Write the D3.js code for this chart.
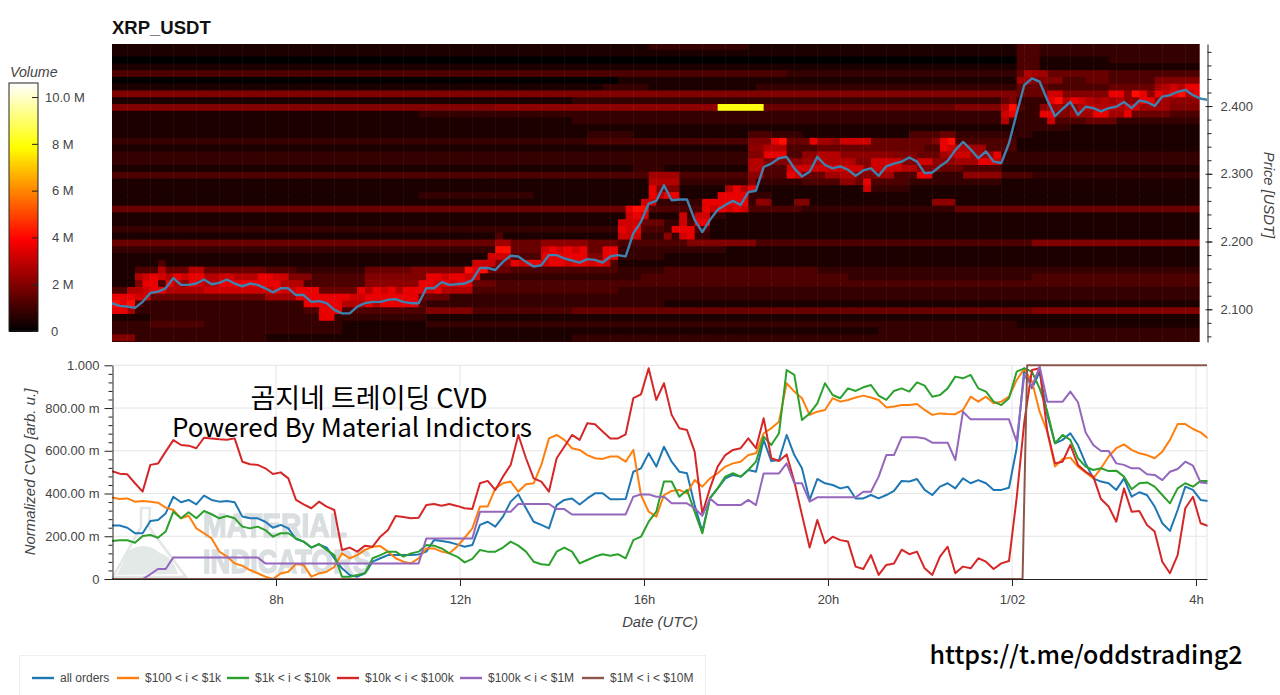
<!DOCTYPE html>
<html><head><meta charset="utf-8">
<script src="https://cdnjs.cloudflare.com/ajax/libs/d3/7.8.5/d3.min.js"></script>
<style>html,body{margin:0;padding:0;background:#fff;overflow:hidden}svg{display:block}text{font-family:"Liberation Sans",Arial,sans-serif}</style>
</head><body><svg id="c" width="1280" height="695"></svg>
<script>
// ---- data ----
const title = "XRP_USDT";
const seriesNames = ["all orders","$100 < i < $1k","$1k < i < $10k","$10k < i < $100k","$100k < i < $1M","$1M < i < $10M"];
const seriesColors = ["#1f77b4","#ff7f0e","#2ca02c","#d62728","#9467bd","#8c564b"];
const startHour = 4.435, endHour = 28.24;
const timeTicks = [8,12,16,20,24,28];
const timeLabels = ["8h","12h","16h","20h","1/02","4h"];
const cvdTicks = [0,200,400,600,800,1000];
const cvdLabels = ["0","200.00 m","400.00 m","600.00 m","800.00 m","1.000"];
const priceTicks = [2.1,2.2,2.3,2.4];
const volumeTicks = [0,2,4,6,8,10];
const volumeLabels = ["0","2 M","4 M","6 M","8 M","10.0 M"];

// values per 10-minute step (milli-units for CVD, 1/1000 USDT for price)
const price = [2109,2105,2104,2102,2111,2124,2126,2131,2146,2136,2136,2138,2144,2137,2139,2144,2138,2134,2138,2136,2131,2125,2131,2131,2121,2121,2111,2112,2109,2099,2094,2094,2104,2109,2111,2111,2114,2115,2111,2109,2109,2131,2131,2140,2136,2137,2138,2143,2161,2161,2158,2170,2179,2178,2170,2163,2165,2180,2180,2175,2172,2169,2174,2173,2169,2178,2180,2178,2212,2229,2256,2260,2283,2261,2262,2262,2232,2214,2232,2247,2254,2260,2254,2273,2275,2310,2315,2323,2325,2308,2296,2303,2325,2313,2308,2311,2306,2297,2305,2308,2297,2311,2315,2318,2324,2318,2301,2302,2311,2319,2335,2347,2336,2323,2333,2318,2316,2345,2389,2431,2441,2436,2409,2385,2396,2406,2387,2399,2397,2392,2397,2399,2406,2397,2408,2406,2400,2414,2416,2421,2424,2416,2411,2409];
const cvdAll = [250,250,240,214,214,271,276,307,385,359,370,349,390,370,362,365,359,292,284,284,268,240,253,237,187,175,147,162,147,97,50,19,11,27,81,97,112,112,112,112,115,128,182,178,172,162,151,159,253,268,245,292,362,396,331,268,253,237,346,370,377,349,377,401,401,373,373,374,502,518,588,526,619,549,502,495,346,222,378,424,471,487,479,510,502,651,552,557,674,580,518,370,468,448,440,424,432,377,377,393,377,393,412,459,456,468,417,393,432,448,424,471,448,463,448,417,417,427,612,986,892,970,768,635,651,682,627,541,471,456,448,417,471,385,406,393,339,261,225,323,432,417,370,365];
const cvd100 = [381,374,377,362,365,362,357,334,323,284,296,237,214,190,128,105,73,62,42,27,11,0,26,34,70,65,11,26,34,57,120,97,112,136,151,154,128,97,81,73,97,143,143,128,120,151,193,237,339,339,424,448,456,409,443,448,534,658,674,651,612,604,580,565,562,573,573,549,604,393,315,292,393,412,417,401,463,432,471,495,526,541,549,580,588,682,705,736,916,877,846,768,783,791,846,830,838,849,858,849,838,803,807,814,814,819,791,768,775,772,771,791,853,830,853,822,830,853,931,983,924,783,690,526,562,568,526,499,471,518,573,612,630,604,588,580,565,596,651,725,725,702,686,658];
const cvd1k = [178,181,181,170,201,206,193,222,315,284,312,284,318,303,284,295,284,245,237,245,229,198,214,214,190,175,147,164,136,112,11,11,19,27,97,112,128,128,105,120,128,159,156,143,120,105,78,94,136,128,128,147,175,156,128,81,69,66,128,147,128,73,89,105,116,109,116,97,182,198,268,315,456,456,385,417,315,214,378,424,479,495,479,510,549,666,627,682,978,955,744,775,822,916,861,846,892,880,897,908,858,838,880,892,877,920,905,853,861,892,947,939,955,892,877,830,814,846,970,986,970,892,783,635,674,651,565,526,510,518,505,507,479,420,448,452,432,393,354,424,448,432,459,459];
const cvd10k = [505,493,490,448,409,534,540,596,650,627,624,612,661,658,654,652,658,549,537,534,518,491,499,471,370,349,331,362,339,323,136,147,128,156,151,198,229,295,290,284,287,346,351,343,351,342,331,328,448,459,417,479,534,674,565,471,456,409,565,619,674,651,729,724,690,658,658,677,846,864,986,838,916,768,705,697,596,307,424,526,580,604,612,658,612,752,565,552,583,456,300,147,276,167,198,182,175,58,47,112,19,66,73,137,116,128,50,19,105,151,27,58,50,97,81,47,73,84,378,736,978,986,690,541,549,627,534,502,479,374,339,268,424,315,318,253,222,81,27,112,331,385,261,248];
const cvd100k = [0,0,0,0,0,22,47,47,101,101,101,101,101,101,101,101,101,101,101,101,73,73,73,73,73,73,73,73,73,73,73,73,73,73,73,73,73,73,73,73,73,190,190,190,190,190,190,190,315,315,315,315,315,351,351,351,351,351,327,327,302,302,302,302,302,302,302,302,385,396,396,385,385,354,354,354,331,296,377,346,346,346,346,370,346,494,494,494,541,448,448,362,382,382,382,382,382,382,408,408,479,580,580,663,663,663,658,638,638,638,557,783,747,747,747,747,747,747,643,955,900,994,830,830,830,877,827,686,627,599,599,541,534,518,518,490,487,463,502,515,549,530,452,448];
const cvd1MHours = [4.435,24.23,24.33,28.24];
const cvd1M = [0,0,1000,1000];

// volume heat-map: one entry per 0.01 USDT price row, [first 10-min column, levels]; last level runs on until next segment
const heatLevelKeys = "0123456789abk";
const heatLevelMillions = [0,0.4,0.8,1.2,1.6,2,2.2,2.5,2.8,3.2,3.6,4.2,8];
const heatPrices = [2.49,2.48,2.47,2.46,2.45,2.44,2.43,2.42,2.41,2.40,2.39,2.38,2.37,2.36,2.35,2.34,2.33,2.32,2.31,2.30,2.29,2.28,2.27,2.26,2.25,2.24,2.23,2.22,2.21,2.20,2.19,2.18,2.17,2.16,2.15,2.14,2.13,2.12,2.11,2.10,2.09,2.08,2.07,2.06,2.05];
const heatRows = [
[[0,"1"],[70,"2"],[83,"1"],[118,"3"],[121,"2"]],
[[0,"1"],[118,"3"],[121,"2"]],
[[0,"0"],[118,"3"],[121,"1"],[130,"2"]],
[[0,"1"],[118,"3"],[121,"1"]],
[[0,"3"],[88,"2"],[118,"48"],[120,"7"],[122,"4"],[130,"3"]],
[[0,"0"],[66,"1"],[118,"77"],[120,"5"],[124,"3"],[127,"4"],[130,"3"],[136,"5"]],
[[0,"1"],[64,"2"],[70,"1"],[84,"2"],[118,"4"],[122,"3"],[130,"4"],[136,"7898"],[140,"aab"]],
[[0,"5"],[118,"4"],[122,"99"],[124,"5"],[130,"aa"],[132,"6"],[133,"ba"],[135,"6"],[136,"a9ab8aa"]],
[[0,"1"],[60,"2"],[116,"45"],[118,"2"],[122,"ab8"],[125,"a98787"],[131,"8"],[132,"6"],[134,"aa"],[136,"7"],[138,"6"]],
[[0,"5"],[50,"6"],[79,"k"],[85,"4"],[110,"5"],[116,"8b3"],[119,"2"],[121,"6"],[122,"7"],[124,"56"],[126,"8"],[132,"9"],[134,"7"],[138,"5"]],
[[0,"1"],[40,"2"],[116,"9a"],[118,"2"],[121,"a"],[123,"5"],[125,"7"],[128,"a"],[130,"7"],[132,"a"],[133,"4"],[138,"3"]],
[[0,"1"],[60,"2"],[116,"8"],[117,"2"],[122,"9"],[123,"3"],[127,"4"],[131,"2"]],
[[0,"1"],[118,"2"],[125,"1"]],
[[0,"1"],[62,"2"],[68,"1"],[83,"3"],[86,"2"],[90,"1"],[104,"3"],[108,"4"],[110,"2"],[120,"1"]],
[[0,"2"],[62,"3"],[83,"5"],[86,"ab"],[88,"4"],[91,"a"],[92,"77"],[94,"6"],[95,"9"],[99,"4"],[107,"5a"],[109,"b"],[110,"3"],[118,"1"]],
[[0,"1"],[83,"6"],[85,"8"],[88,"3"],[92,"4"],[106,"3"],[108,"a9"],[110,"8"],[112,"7"],[114,"3"],[118,"1"]],
[[0,"2"],[83,"5"],[85,"aaa"],[88,"3"],[90,"6"],[92,"8"],[95,"6"],[102,"5"],[105,"4"],[108,"7899"],[112,"7"],[115,"a"],[116,"2"]],
[[0,"2"],[83,"88"],[85,"5"],[88,"6"],[90,"7"],[92,"8"],[95,"88"],[97,"5"],[99,"9"],[103,"5"],[105,"99"],[107,"6"],[110,"7"],[113,"aa"],[115,"9"],[116,"2"]],
[[0,"1"],[68,"2"],[72,"1"],[83,"88"],[85,"3"],[88,"999"],[91,"9"],[96,"9"],[98,"6"],[99,"9"],[103,"8"],[105,"5"],[108,"4"],[111,"3"],[116,"1"]],
[[0,"3"],[70,"7"],[74,"3"],[83,"66"],[85,"3"],[88,"a9"],[90,"4"],[93,"77"],[95,"88"],[97,"5"],[100,"7"],[102,"3"],[105,"aa"],[107,"2"],[111,"6"],[116,"3"],[120,"2"]],
[[0,"1"],[70,"8"],[74,"2"],[83,"5"],[84,"2"],[90,"3"],[95,"66"],[97,"4"],[98,"a"],[99,"3"],[104,"2"],[116,"1"]],
[[0,"1"],[70,"a"],[71,"5"],[74,"1"],[80,"8a8a"],[84,"1"],[98,"9"],[99,"2"],[104,"1"]],
[[0,"1"],[40,"2"],[55,"1"],[70,"a8aa"],[74,"1"],[79,"aaaa"],[83,"2"],[86,"1"]],
[[0,"1"],[69,"99"],[71,"2"],[77,"a"],[83,"2"],[84,"66"],[86,"1"],[89,"55"],[91,"1"],[107,"666"],[110,"1"]],
[[0,"4"],[67,"a"],[68,"bb"],[70,"3"],[77,"a9a9a9"],[83,"3"],[90,"2"],[110,"4"]],
[[0,"1"],[67,"9a9"],[70,"1"],[74,"9"],[75,"2"],[76,"99"],[78,"2"],[80,"1"]],
[[0,"1"],[66,"999"],[69,"4"],[72,"2"],[74,"9"],[75,"3"],[76,"aa"],[78,"1"]],
[[0,"2"],[66,"a9a"],[69,"3"],[72,"2"],[73,"aaa"],[76,"3"],[78,"1"]],
[[0,"1"],[50,"3"],[51,"1"],[66,"999"],[69,"2"],[72,"6"],[73,"2"],[74,"9a"],[76,"2"],[78,"1"]],
[[0,"4"],[50,"77"],[52,"4"],[56,"6"],[62,"4"],[66,"3"],[75,"5"],[84,"3"],[120,"5"]],
[[0,"2"],[50,"bb"],[52,"4"],[56,"9a9a9a"],[62,"4"],[64,"aa"],[66,"2"],[80,"1"]],
[[0,"1"],[49,"999"],[52,"3"],[56,"aaaaaa"],[62,"5"],[64,"aa"],[66,"2"],[72,"1"]],
[[0,"1"],[6,"3"],[7,"1"],[47,"999"],[50,"5"],[52,"a9aa9aa9aa9a"],[64,"9"],[65,"3"],[66,"1"]],
[[0,"1"],[3,"3"],[6,"8"],[7,"4"],[10,"88"],[12,"4"],[20,"3"],[24,"2"],[33,"4"],[39,"5"],[46,"bab"],[49,"4"],[52,"3"],[66,"2"],[72,"3"],[92,"2"]],
[[0,"1"],[3,"8"],[4,"9a98a9"],[10,"aa"],[12,"8"],[14,"9"],[16,"8"],[19,"aa"],[21,"9"],[23,"5"],[26,"3"],[33,"5"],[41,"aa9aa"],[46,"9"],[48,"2"],[69,"3"],[96,"2"],[120,"3"]],
[[0,"1"],[3,"5"],[4,"aa"],[6,"3"],[7,"a8"],[9,"6"],[10,"a9"],[12,"8"],[14,"a"],[22,"8"],[25,"3"],[33,"6"],[40,"aa9a9aa"],[47,"4"],[50,"3"]],
[[0,"3"],[2,"88"],[4,"9a"],[6,"a"],[7,"8"],[12,"9"],[20,"9a"],[22,"9"],[24,"aaa"],[27,"4"],[32,"a8a9a8"],[38,"a"],[40,"a9a"],[43,"8"],[47,"3"],[66,"2"]],
[[0,"aaa"],[3,"9"],[5,"4"],[20,"7"],[24,"aaaaaaa"],[31,"9"],[33,"a"],[40,"4"],[44,"2"]],
[[0,"bab"],[3,"3"],[4,"2"],[25,"a"],[30,"8"],[33,"a8"],[35,"a"],[40,"3"],[41,"2"],[72,"1"]],
[[0,"aa"],[2,"7"],[3,"2"],[25,"3"],[27,"aaa"],[30,"3"],[41,"5"],[47,"3"],[60,"4"],[120,"5"]],
[[0,"1"],[5,"2"],[27,"aa"],[29,"2"],[41,"1"]],
[[0,"2"],[5,"3"],[12,"2"],[30,"1"],[41,"2"],[118,"1"]],
[[0,"2"],[30,"1"],[100,"2"]],
[[0,"5"],[3,"2"],[20,"1"],[60,"2"]],
[[0,"2"]]
];
const heatCols = 142;

// ---- drawing ----
const svg = d3.select("#c");
const x = d3.scaleLinear([startHour,endHour],[112,1207]);
const yP = d3.scaleLinear([2.0517,2.4916],[342,44]);
const yC = d3.scaleLinear([0,1000],[579,365.3]);
const hot = d3.scaleLinear([0,3.94,7.88,10.6],["#000","#f00","#ff0","#fff"]).clamp(true);
const stepH = 1/6;
const hoursOf = i => startHour + i*stepH;
const gray="#444";

svg.append("defs").html(`<clipPath id="hp"><rect x="112" y="44" width="1087.7" height="298"/></clipPath>
<clipPath id="pl"><rect x="112" y="44" width="1095" height="298"/></clipPath>
<clipPath id="cl"><rect x="112" y="360" width="1095.5" height="225"/></clipPath>
<filter id="soft"><feGaussianBlur stdDeviation="0.6"/></filter>`);

// heat map
const cells=[];
heatRows.forEach((segs,r)=>{
  segs.forEach((s,k)=>{
    const end = k+1<segs.length ? segs[k+1][0] : heatCols;
    for(let c=s[0];c<end;c++){
      const ch = s[1][Math.min(c-s[0],s[1].length-1)];
      cells.push({c,p:heatPrices[r],v:heatLevelMillions[heatLevelKeys.indexOf(ch)]});
    }
  });
});
svg.append("g").attr("clip-path","url(#hp)").append("g").attr("filter","url(#soft)")
  .selectAll("rect").data(cells).join("rect")
  .attr("x",d=>x(hoursOf(d.c))).attr("width",x(hoursOf(1))-x(hoursOf(0))+0.5)
  .attr("y",d=>yP(d.p+0.003)).attr("height",d=>yP(d.p-0.0075)-yP(d.p+0.003)+0.5)
  .attr("fill",d=>hot(d.v));

// price line
svg.append("path").attr("clip-path","url(#pl)").datum(price)
  .attr("d",d3.line().x((d,i)=>x(hoursOf(i))).y(d=>yP(d/1000)))
  .attr("fill","none").attr("stroke","#3f82b0").attr("stroke-width",2.4).attr("stroke-linejoin","round");

// price axis
const axP = svg.append("g").attr("transform","translate(1207.5,0)");
axP.call(d3.axisRight(yP).tickValues(priceTicks).tickFormat(d3.format(".3f")).tickSize(5).tickSizeOuter(0));
axP.select(".domain").attr("stroke","#222");
axP.selectAll(".tick line").attr("stroke","#222").attr("x1",-2);
axP.selectAll("text").attr("font-size",13).attr("fill",gray).attr("x",13).attr("font-family","Liberation Sans");
const axP2 = svg.append("g").attr("transform","translate(1207.5,0)");
axP2.call(d3.axisRight(yP).tickValues(d3.range(2.06,2.49,0.02).map(v=>+v.toFixed(2))).tickFormat(()=>"").tickSize(4).tickSizeOuter(0));
axP2.select(".domain").remove(); axP2.selectAll(".tick line").attr("stroke","#222");
svg.append("text").attr("transform","translate(1264,195) rotate(90)").attr("text-anchor","middle")
  .attr("font-size",14.8).attr("font-style","italic").attr("fill",gray).text("Price [USDT]");

// title
svg.append("text").attr("x",112).attr("y",34).attr("font-size",18.5).attr("font-weight","bold").attr("fill","#111").text(title);

// colour bar
svg.append("text").attr("x",10).attr("y",77).attr("font-size",14.2).attr("font-style","italic").attr("fill",gray).text("Volume");
const yV = d3.scaleLinear([0,10.6],[331,83]);
svg.append("g").attr("shape-rendering","crispEdges").selectAll("rect").data(d3.range(0,10.6,0.05)).join("rect")
  .attr("x",9).attr("width",29).attr("y",d=>yV(d+0.05)).attr("height",d=>yV(d)-yV(d+0.05)+1).attr("fill",d=>hot(d));
svg.append("rect").attr("x",9).attr("y",83).attr("width",29).attr("height",248).attr("fill","none").attr("stroke","#222").attr("stroke-width",1);
const axV = svg.append("g").attr("transform","translate(38,0)");
axV.call(d3.axisRight(yV).tickValues(volumeTicks).tickFormat((d,i)=>volumeLabels[i]).tickSize(0));
axV.select(".domain").remove();
axV.selectAll(".tick text").attr("font-size",13).attr("fill",gray).attr("font-family","Liberation Sans").attr("x",d=>d===10?7:d===0?13:14);
axV.selectAll(".tick line").attr("x1",-6).attr("x2",0).attr("stroke","#222");

// CVD grid
const grid = svg.append("g").attr("stroke","#e5e5e5").attr("stroke-width",1);
cvdTicks.slice(1).forEach(v=>grid.append("line").attr("x1",112).attr("x2",1207).attr("y1",yC(v)).attr("y2",yC(v)));
timeTicks.forEach(h=>grid.append("line").attr("x1",x(h)).attr("x2",x(h)).attr("y1",365).attr("y2",579));
grid.append("line").attr("x1",1207).attr("x2",1207).attr("y1",365).attr("y2",579);

// watermark
const wm = svg.append("g").attr("filter","url(#soft)");
wm.append("path").attr("d","M141 508 L150 508 L149 527 L186 577 L113 577 L141 527 Z").attr("fill","none").attr("stroke","#e2e6e6").attr("stroke-width",2.5);
wm.append("path").attr("d","M128 551 Q145 540 160 553 Q172 556 178 574 L117 575 Z").attr("fill","#e3e9e7");
wm.append("text").attr("x",203).attr("y",537).attr("font-size",33).attr("font-weight","bold").attr("fill","#d9dee1").attr("stroke","#d9dee1").attr("stroke-width",1.4).attr("textLength",144).attr("lengthAdjust","spacingAndGlyphs").text("MATERIAL");
wm.append("text").attr("x",203).attr("y",573).attr("font-size",33).attr("font-weight","bold").attr("fill","#d9dee1").attr("stroke","#d9dee1").attr("stroke-width",1.4).attr("textLength",168).attr("lengthAdjust","spacingAndGlyphs").text("INDICATORS");

// CVD lines
const lineC = d3.line().x((d,i)=>x(hoursOf(i))).y(d=>yC(d));
const gl = svg.append("g").attr("clip-path","url(#cl)");
[cvdAll,cvd100,cvd1k,cvd10k,cvd100k].forEach((s,k)=>{
  gl.append("path").datum(s).attr("d",lineC).attr("fill","none").attr("stroke",seriesColors[k]).attr("stroke-width",2).attr("stroke-linejoin","round");
});
gl.append("path").datum(cvd1M).attr("d",d3.line().x((d,i)=>x(cvd1MHours[i])).y(d=>yC(d)))
  .attr("fill","none").attr("stroke",seriesColors[5]).attr("stroke-width",2).attr("stroke-linejoin","round");

// CVD axes
const axL = svg.append("g").attr("transform","translate(112.5,0)");
axL.call(d3.axisLeft(yC).tickValues(cvdTicks).tickFormat((d,i)=>cvdLabels[i]).tickSize(8).tickSizeOuter(0).tickPadding(5));
axL.select(".domain").attr("stroke","#222");
axL.selectAll(".tick line").attr("stroke","#222");
axL.selectAll("text").attr("font-size",13).attr("fill",gray).attr("font-family","Liberation Sans");
const axL2 = svg.append("g").attr("transform","translate(112.5,0)");
axL2.call(d3.axisLeft(yC).tickValues(d3.range(40,1000,40).filter(v=>v%200)).tickFormat(()=>"").tickSize(4).tickSizeOuter(0));
axL2.select(".domain").remove(); axL2.selectAll(".tick line").attr("stroke","#222");
const axB = svg.append("g").attr("transform","translate(0,579)");
axB.call(d3.axisBottom(x).tickValues(timeTicks).tickFormat((d,i)=>timeLabels[i]).tickSize(7).tickSizeOuter(0).tickPadding(9));
axB.select(".domain").attr("stroke","#222");
axB.selectAll(".tick line").attr("stroke","#222");
axB.selectAll("text").attr("font-size",13).attr("fill",gray).attr("font-family","Liberation Sans");
svg.append("text").attr("x",660).attr("y",627).attr("text-anchor","middle").attr("font-size",14.8).attr("font-style","italic").attr("fill",gray).text("Date (UTC)");
svg.append("text").attr("transform","translate(35,472) rotate(-90)").attr("text-anchor","middle").attr("font-size",15).attr("font-style","italic").attr("fill",gray).text("Normalized CVD [arb. u.]");

// annotation
const ann = '"Noto Sans CJK KR","Noto Sans",sans-serif';
svg.append("text").attr("x",369).attr("y",408).attr("text-anchor","middle").attr("font-size",27).style("font-family",ann).attr("fill","#000").text("곰지네 트레이딩 CVD");
svg.append("text").attr("x",352).attr("y",437).attr("text-anchor","middle").attr("font-size",26).style("font-family",ann).attr("fill","#000").text("Powered By Material Indictors");
svg.append("text").attr("x",1086).attr("y",664).attr("text-anchor","middle").attr("font-size",25).style("font-family",ann).attr("font-weight",500).attr("fill","#000").text("https://t.me/oddstrading2");

// legend
svg.append("rect").attr("x",19.5).attr("y",655.5).attr("width",686).attr("height",45).attr("fill","#fff").attr("stroke","#eee");
const legendX = [32,117,227,337,460,582];
const lg = svg.append("g");
seriesNames.forEach((n,i)=>{
  lg.append("line").attr("x1",legendX[i]).attr("x2",legendX[i]+22).attr("y1",678).attr("y2",678).attr("stroke",seriesColors[i]).attr("stroke-width",2.4);
  lg.append("text").attr("x",legendX[i]+28).attr("y",682).attr("font-size",12).attr("fill",gray).text(n);
});
</script></body></html>
